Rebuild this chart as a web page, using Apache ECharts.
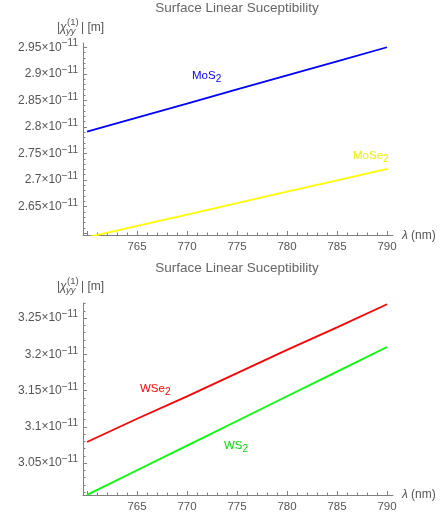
<!DOCTYPE html>
<html><head><meta charset="utf-8">
<script src="https://cdn.jsdelivr.net/npm/echarts@6/dist/echarts.min.js"></script>
<style>html,body{margin:0;padding:0;background:#fff}#c{width:445px;height:517px}</style>
</head><body><div id="c"></div>
<script>
// ---- data (values in units of 1e-11 m) ----
const wavelengths = [760, 765, 770, 775, 780, 785, 790];
const mos2  = [2.791, 2.8175, 2.844, 2.8705, 2.897, 2.9235, 2.950];
const mose2 = [2.592, 2.6135, 2.635, 2.6565, 2.678, 2.6995, 2.721];
const wse2  = [3.079, 3.111, 3.142, 3.174, 3.206, 3.237, 3.269];
const ws2   = [3.006, 3.040, 3.074, 3.108, 3.142, 3.176, 3.210];

// ---- ticks ----
const xMajorTicks = [760, 765, 770, 775, 780, 785, 790];
const xLabelTicks = [765, 770, 775, 780, 785, 790];
const yTopMajorTicks = [2.6, 2.65, 2.7, 2.75, 2.8, 2.85, 2.9, 2.95];
const yTopLabelTicks = [2.65, 2.7, 2.75, 2.8, 2.85, 2.9, 2.95];
const yBotMajorTicks = [3.05, 3.1, 3.15, 3.2, 3.25];
const yBotLabelTicks = [3.05, 3.1, 3.15, 3.2, 3.25];

function minorRange(a, b, step, majors) {
  const out = [];
  const n = Math.round((b - a) / step);
  for (let i = 0; i <= n; i++) {
    const v = +(a + i * step).toFixed(4);
    if (!majors.some(m => Math.abs(m - v) < 1e-6)) out.push(v);
  }
  return out;
}
const xMinorTicks = minorRange(760, 790, 1, xMajorTicks);
const yTopMinorTicks = minorRange(2.60, 2.96, 0.01, yTopMajorTicks);
const yBotMinorTicks = minorRange(3.01, 3.27, 0.01, yBotMajorTicks);

const FONT = "'Liberation Sans', Arial, sans-serif";
const AX = '#808080';
const TXT = '#555';

const grids = [
  { left: 83, right: 52, top: 43, height: 192 },
  { left: 83, right: 52, top: 303, height: 192 }
];
const yRanges = [[2.5965, 2.958], [3.0059, 3.2707]];

function pair(arrX, arrY) { return arrX.map((x, i) => [x, arrY[i]]); }

const xAxes = [], yAxes = [];
[0, 1].forEach(g => {
  xAxes.push({
    type: 'value', gridIndex: g, min: 759.6, max: 790.6, position: 'bottom',
    axisLine: { onZero: false, lineStyle: { color: AX, width: 1 } },
    axisTick: { inside: true, length: 4, customValues: xMajorTicks, lineStyle: { color: AX } },
    axisLabel: { customValues: xLabelTicks, color: TXT, fontFamily: FONT, fontSize: 11.5, margin: 6 },
    splitLine: { show: false }
  });
  xAxes.push({
    type: 'value', gridIndex: g, min: 759.6, max: 790.6, position: 'bottom',
    axisLine: { show: false, onZero: false },
    axisTick: { inside: true, length: 2.5, customValues: xMinorTicks, lineStyle: { color: AX } },
    axisLabel: { show: false }, splitLine: { show: false }
  });
  const majors = g === 0 ? yTopMajorTicks : yBotMajorTicks;
  const labels = g === 0 ? yTopLabelTicks : yBotLabelTicks;
  const minors = g === 0 ? yTopMinorTicks : yBotMinorTicks;
  yAxes.push({
    type: 'value', gridIndex: g, min: yRanges[g][0], max: yRanges[g][1], position: 'left',
    axisLine: { show: true, onZero: false, lineStyle: { color: AX, width: 1 } },
    axisTick: { show: true, inside: true, length: 4, customValues: majors, lineStyle: { color: AX } },
    axisLabel: {
      customValues: labels, margin: 5,
      formatter: v => '{b|' + String(+(+v).toFixed(2)) + '×10}{p|−11}',
      rich: {
        b: { fontFamily: FONT, fontSize: 12, color: TXT, lineHeight: 17, verticalAlign: 'middle' },
        p: { fontFamily: FONT, fontSize: 10, color: TXT, lineHeight: 10, verticalAlign: 'top' }
      }
    },
    splitLine: { show: false }
  });
  yAxes.push({
    type: 'value', gridIndex: g, min: yRanges[g][0], max: yRanges[g][1], position: 'left',
    axisLine: { show: false, onZero: false },
    axisTick: { show: true, inside: true, length: 2.5, customValues: minors, lineStyle: { color: AX } },
    axisLabel: { show: false }, splitLine: { show: false }
  });
});

function lineSeries(name, g, data, color) {
  return {
    name, type: 'line', xAxisIndex: g * 2, yAxisIndex: g * 2,
    data: pair(wavelengths, data), showSymbol: false, symbol: 'none',
    lineStyle: { color, width: 1.8 }, itemStyle: { color }, clip: true, silent: true
  };
}

const subRich = (color) => ({
  b: { fontFamily: FONT, fontSize: 11.5, fill: color, color: color, lineHeight: 16, verticalAlign: 'middle' },
  s: { fontFamily: FONT, fontSize: 10, fill: color, color: color, lineHeight: 9, verticalAlign: 'bottom' }
});
function txt(x, y, text, opts) {
  return { type: 'text', x, y, style: Object.assign({ text, font: '12px ' + FONT, fill: TXT, textVerticalAlign: 'middle', verticalAlign: 'middle' }, opts || {}) };
}
function label(x, y, text, color) {
  return { type: 'text', x, y, style: { text, rich: subRich(color), fill: color, font: '11.5px ' + FONT, verticalAlign: 'middle', textVerticalAlign: 'middle' } };
}
function axisName(y) {
  return [
    txt(57, y, '|', {}),
    txt(60, y, 'χ', { font: 'italic 12px ' + FONT }),
    txt(67, y - 6, '(1)', { font: '9.5px ' + FONT }),
    txt(66, y + 3, 'yy', { font: 'italic 9.5px ' + FONT }),
    txt(81, y, '| [m]', {})
  ];
}

const graphic = [
  txt(237, 8, 'Surface Linear Suceptibility', { font: '13.5px ' + FONT, fill: '#666', align: 'center', textAlign: 'center' }),
  txt(237, 268, 'Surface Linear Suceptibility', { font: '13.5px ' + FONT, fill: '#666', align: 'center', textAlign: 'center' }),
  ...axisName(28),
  ...axisName(287),
  txt(402, 236, 'λ', { font: 'italic 12px ' + FONT }),
  txt(411, 236, '(nm)', {}),
  txt(402, 495, 'λ', { font: 'italic 12px ' + FONT }),
  txt(411, 495, '(nm)', {}),
  label(192, 76, '{b|MoS}{s|2}', '#0000ff'),
  label(353, 156, '{b|MoSe}{s|2}', '#f0f000'),
  label(140, 389, '{b|WSe}{s|2}', '#ff0000'),
  label(224, 446, '{b|WS}{s|2}', '#00e000')
];

const chart = echarts.init(document.getElementById('c'), null, { renderer: 'canvas' });
chart.setOption({
  animation: false,
  backgroundColor: '#fff',
  grid: grids,
  xAxis: xAxes,
  yAxis: yAxes,
  series: [
    lineSeries('MoS2', 0, mos2, '#0000ff'),
    lineSeries('MoSe2', 0, mose2, '#ffff00'),
    lineSeries('WSe2', 1, wse2, '#ff0000'),
    lineSeries('WS2', 1, ws2, '#00ff00')
  ],
  graphic
});
</script>
</body></html>
